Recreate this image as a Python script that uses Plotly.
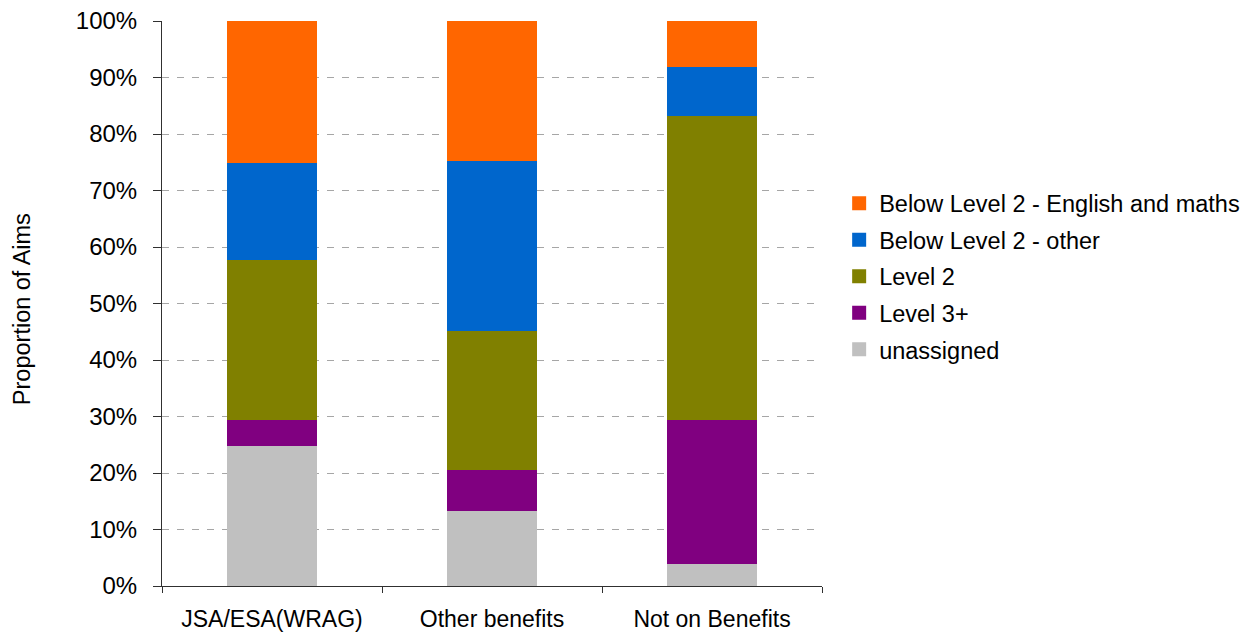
import plotly.graph_objects as go

categories = ["JSA/ESA(WRAG)", "Other benefits", "Not on Benefits"]

# stacked proportions (%), bottom to top
unassigned = [24.9, 13.4, 4.0]
level3plus = [4.6, 7.3, 25.5]
level2 = [28.4, 24.6, 53.8]
below2_other = [17.2, 30.1, 8.8]
below2_eng_maths = [24.9, 24.6, 7.9]

series_names = ["unassigned", "Level 3+", "Level 2",
                "Below Level 2 - other", "Below Level 2 - English and maths"]
series_values = [unassigned, level3plus, level2, below2_other, below2_eng_maths]
series_colors = ["#C0C0C0", "#800080", "#808000", "#0066CC", "#FF6600"]

y_ticks = list(range(0, 101, 10))
y_ticktext = [f"{v}%" for v in y_ticks]

FONT = "Liberation Sans, Arial, sans-serif"

fig = go.Figure()
n = len(series_names)
for i, (name, vals, col) in enumerate(zip(series_names, series_values, series_colors)):
    fig.add_trace(go.Bar(
        x=categories, y=vals, name=name, legendgroup=name,
        legendrank=n - i,
        marker=dict(color=col, line=dict(width=2, color=col)),
    ))

fig.update_layout(
    barmode="stack",
    bargap=0.603,
    width=1253, height=627,
    margin=dict(l=154, r=439, t=13, b=49),
    paper_bgcolor="white", plot_bgcolor="white",
    font=dict(family=FONT, size=23, color="#000000"),
    legend=dict(
        x=1.026, xanchor="left", y=0.548, yanchor="middle",
        traceorder="grouped", tracegroupgap=3,
        font=dict(family=FONT, size=23.5, color="#000000"),
        bgcolor="rgba(0,0,0,0)",
    ),
    xaxis=dict(
        showline=True, linecolor="#303030", linewidth=1,
        ticks="outside", tickson="boundaries", ticklen=6, tickcolor="#303030",
        showgrid=False, tickfont=dict(size=23), automargin=False,
        ticklabelstandoff=12,
    ),
    yaxis=dict(
        range=[0, 100], tickvals=y_ticks, ticktext=y_ticktext,
        showline=True, linecolor="#303030", linewidth=1,
        ticks="outside", ticklen=8, tickcolor="#303030",
        showgrid=True, gridcolor="#A6A6A6", griddash="7px,8px", gridwidth=1,
        zeroline=False, tickfont=dict(size=24), automargin=False,
        ticklabeloverflow="allow", ticklabelstandoff=11,
    ),
    annotations=[dict(
        text="Proportion of Aims", textangle=-90,
        x=(22 - 162) / 660, xref="paper", y=0.49, yref="paper",
        showarrow=False, font=dict(size=23.5, color="#000000"),
        xanchor="center", yanchor="middle",
    )],
)

fig.write_html("out.html")
